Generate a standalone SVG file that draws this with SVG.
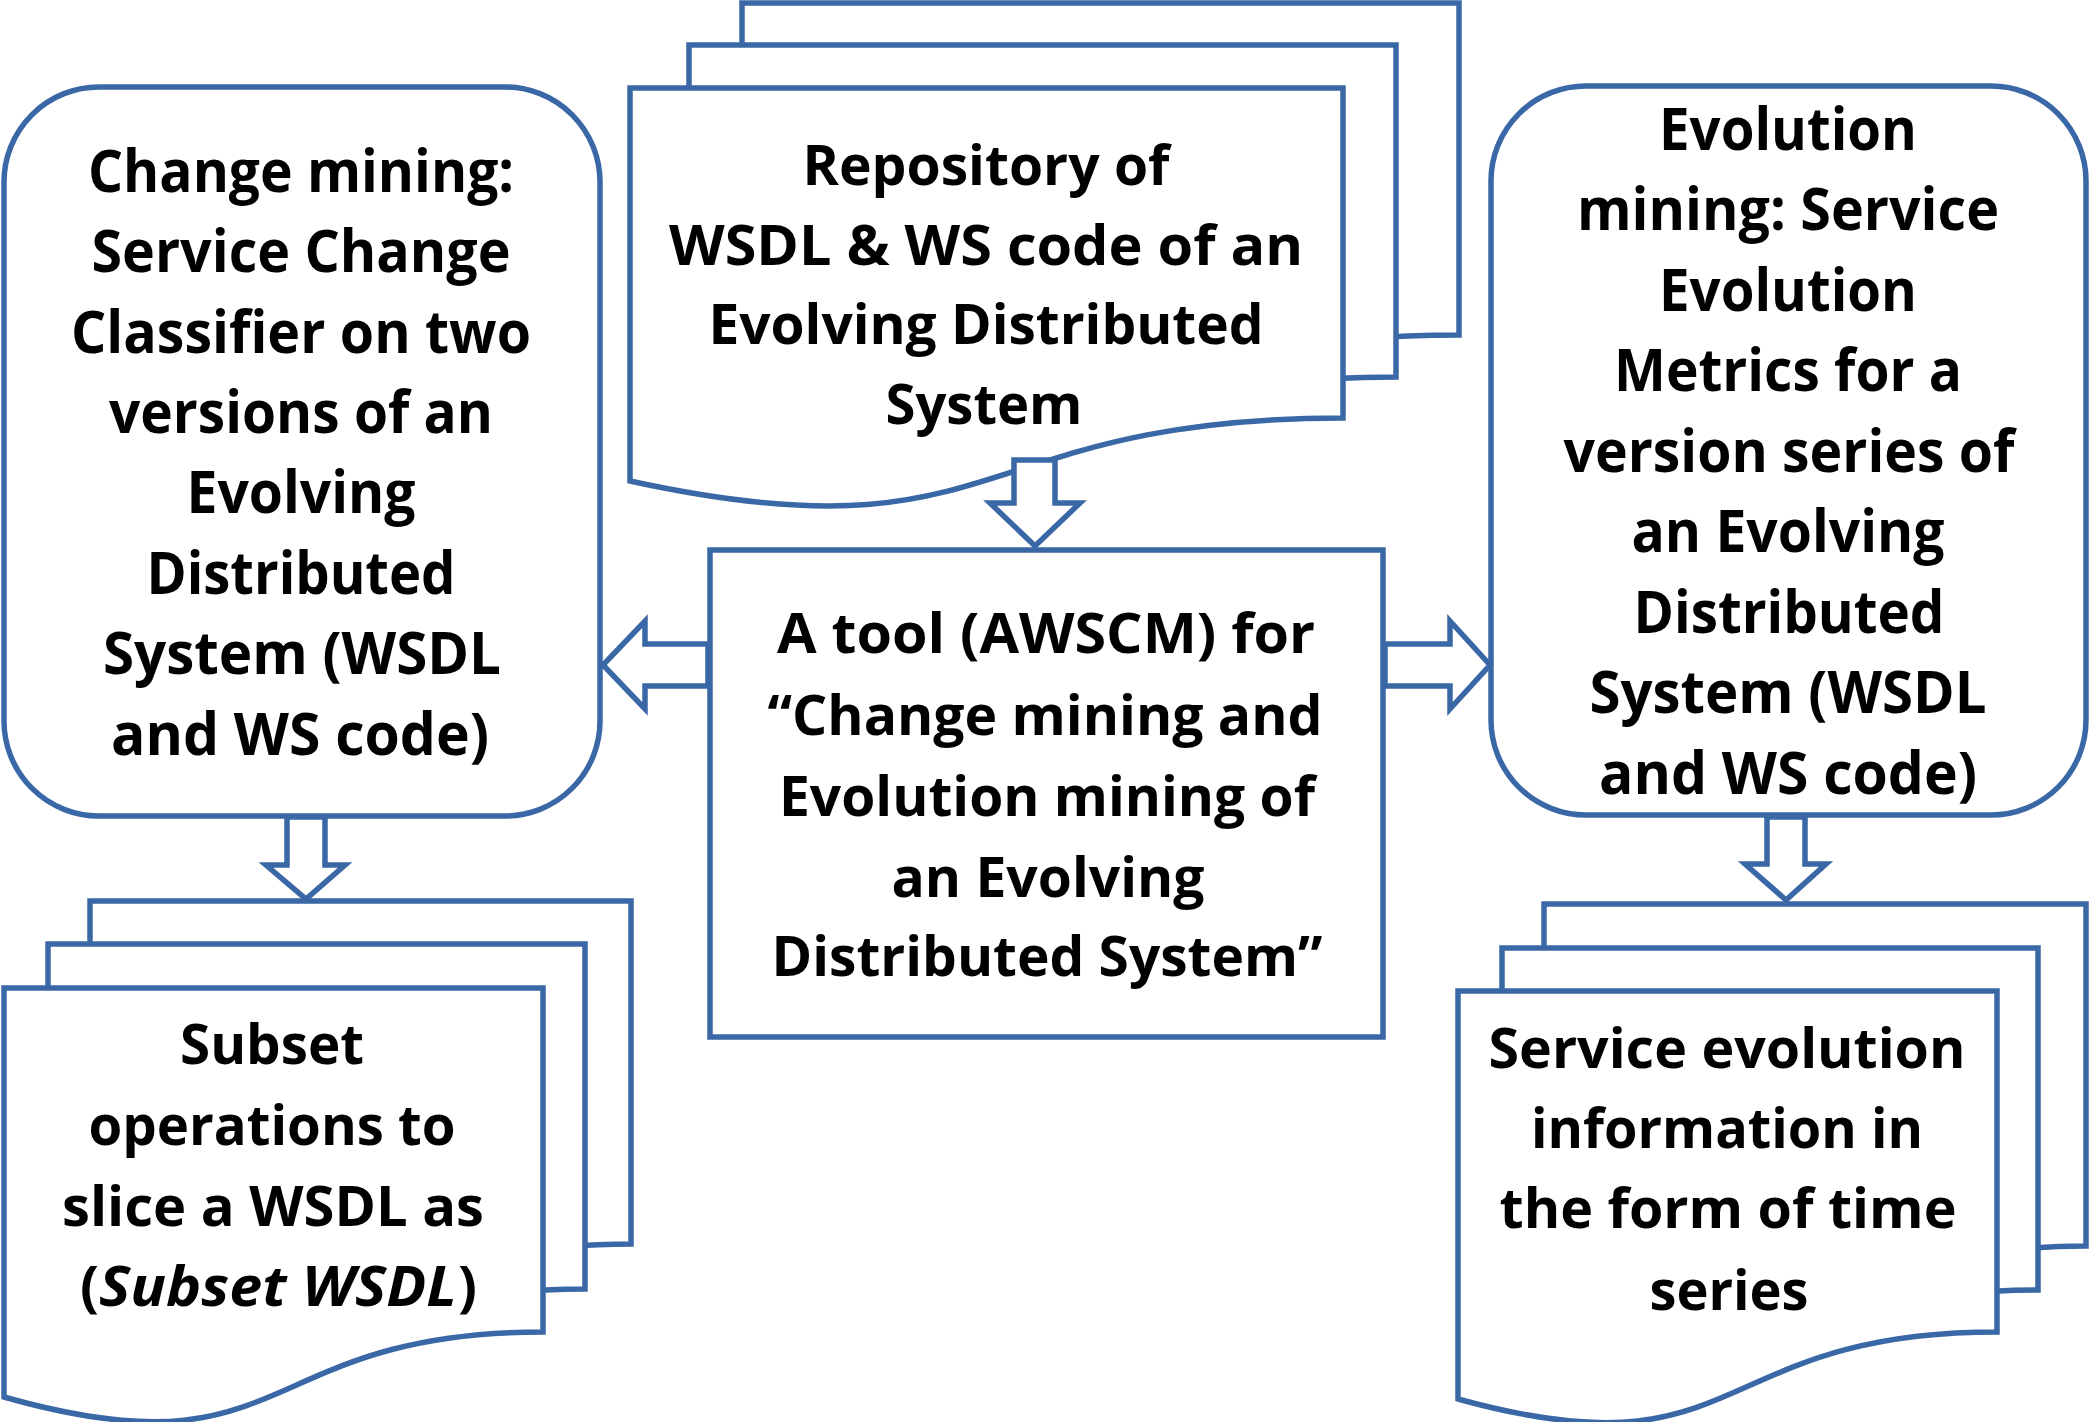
<svg xmlns="http://www.w3.org/2000/svg" width="2090" height="1422" viewBox="0 0 2090 1422">
<style>
.sh{fill:#fff;stroke:#3a68a6;stroke-width:5.5;stroke-linejoin:miter}
.ar{fill:#fff;stroke:#3a68a6;stroke-width:5.5;stroke-linejoin:miter}
.tw{font-family:"Open Sans","Liberation Sans",sans-serif;font-weight:bold;font-size:59px;fill:#000;text-anchor:middle}
.tn{font-family:"Open Sans","Liberation Sans",sans-serif;font-weight:bold;font-size:56px;fill:#000;text-anchor:middle}
</style>
<rect width="2090" height="1422" fill="#fff"/>

<g id="repository">
<path class="sh" d="M742,3 H1459 V335 C1080,335 1120,480 742,398 Z"/>
<path class="sh" d="M689,45 H1396 V377 C1022,377 1062,522 689,440 Z"/>
<path class="sh" d="M630,88 H1343 V418 C966,418 1006,563 630,481 Z"/>
<text class="tn" x="986" y="185" textLength="367" lengthAdjust="spacingAndGlyphs">Repository of</text>
<text class="tn" x="986" y="265" textLength="634" lengthAdjust="spacingAndGlyphs">WSDL &amp; WS code of an</text>
<text class="tn" x="986" y="344" textLength="555" lengthAdjust="spacingAndGlyphs">Evolving Distributed</text>
<text class="tn" x="984" y="424" textLength="197" lengthAdjust="spacingAndGlyphs">System</text>
</g>

<g id="change-mining">
<rect class="sh" x="4" y="87" width="596" height="729" rx="95" ry="95"/>
<text class="tw" x="301" y="192" textLength="426" lengthAdjust="spacingAndGlyphs">Change mining:</text>
<text class="tw" x="301" y="272" textLength="419" lengthAdjust="spacingAndGlyphs">Service Change</text>
<text class="tw" x="301" y="353" textLength="460" lengthAdjust="spacingAndGlyphs">Classifier on two</text>
<text class="tw" x="301" y="433" textLength="384" lengthAdjust="spacingAndGlyphs">versions of an</text>
<text class="tw" x="301" y="513" textLength="229" lengthAdjust="spacingAndGlyphs">Evolving</text>
<text class="tw" x="301" y="594" textLength="309" lengthAdjust="spacingAndGlyphs">Distributed</text>
<text class="tw" x="302" y="674" textLength="398" lengthAdjust="spacingAndGlyphs">System (WSDL</text>
<text class="tw" x="300" y="755" textLength="378" lengthAdjust="spacingAndGlyphs">and WS code)</text>
</g>

<g id="evolution-mining">
<rect class="sh" x="1491" y="86" width="595" height="729" rx="95" ry="95"/>
<text class="tw" x="1788" y="150" textLength="258" lengthAdjust="spacingAndGlyphs">Evolution</text>
<text class="tw" x="1788" y="230" textLength="422" lengthAdjust="spacingAndGlyphs">mining: Service</text>
<text class="tw" x="1788" y="311" textLength="258" lengthAdjust="spacingAndGlyphs">Evolution</text>
<text class="tw" x="1788" y="391" textLength="348" lengthAdjust="spacingAndGlyphs">Metrics for a</text>
<text class="tw" x="1789" y="472" textLength="451" lengthAdjust="spacingAndGlyphs">version series of</text>
<text class="tw" x="1788" y="552" textLength="313" lengthAdjust="spacingAndGlyphs">an Evolving</text>
<text class="tw" x="1789" y="633" textLength="311" lengthAdjust="spacingAndGlyphs">Distributed</text>
<text class="tw" x="1788" y="713" textLength="397" lengthAdjust="spacingAndGlyphs">System (WSDL</text>
<text class="tw" x="1788" y="794" textLength="378" lengthAdjust="spacingAndGlyphs">and WS code)</text>
</g>

<g id="awscm-tool">
<rect class="sh" x="710" y="550" width="673" height="487"/>
<text class="tn" x="1046" y="653" textLength="538" lengthAdjust="spacingAndGlyphs">A tool (AWSCM) for</text>
<text class="tn" x="1045" y="735" textLength="555" lengthAdjust="spacingAndGlyphs">“Change mining and</text>
<text class="tn" x="1047" y="816" textLength="536" lengthAdjust="spacingAndGlyphs">Evolution mining of</text>
<text class="tn" x="1048" y="897" textLength="313" lengthAdjust="spacingAndGlyphs">an Evolving</text>
<text class="tn" x="1047" y="976" textLength="551" lengthAdjust="spacingAndGlyphs">Distributed System”</text>
</g>

<g id="subset-wsdl">
<path class="sh" d="M90,901 H631 V1244 C340,1244 380,1391 90,1309 Z"/>
<path class="sh" d="M48,944 H585 V1289 C296,1289 336,1436 48,1354 Z"/>
<path class="sh" d="M4,988 H543 V1332 C253,1332 293,1479 4,1397 Z"/>
<text class="tn" x="272" y="1064" textLength="184" lengthAdjust="spacingAndGlyphs">Subset</text>
<text class="tn" x="272" y="1145" textLength="367" lengthAdjust="spacingAndGlyphs">operations to</text>
<text class="tn" x="273" y="1226" textLength="422" lengthAdjust="spacingAndGlyphs">slice a WSDL as</text>
<text class="tn" style="text-anchor:start" y="1306"><tspan x="80">(</tspan><tspan x="99" font-style="italic" textLength="358" lengthAdjust="spacingAndGlyphs">Subset WSDL</tspan><tspan x="458">)</tspan></text>
</g>

<g id="evolution-info">
<path class="sh" d="M1544,904 H2086 V1246 C1795,1246 1835,1393 1544,1311 Z"/>
<path class="sh" d="M1502,948 H2038 V1290 C1750,1290 1790,1437 1502,1355 Z"/>
<path class="sh" d="M1458,991 H1997 V1332 C1707,1332 1747,1479 1458,1399 Z"/>
<text class="tn" x="1727" y="1068" textLength="477" lengthAdjust="spacingAndGlyphs">Service evolution</text>
<text class="tn" x="1727" y="1148" textLength="392" lengthAdjust="spacingAndGlyphs">information in</text>
<text class="tn" x="1728" y="1228" textLength="457" lengthAdjust="spacingAndGlyphs">the form of time</text>
<text class="tn" x="1729" y="1310" textLength="159" lengthAdjust="spacingAndGlyphs">series</text>
</g>

<g id="connectors">
<path class="ar" d="M1014,460 H1055 V503 H1080 L1035,546 L990,503 H1014 Z"/>
<path class="ar" d="M708,644 V686 H645 V709 L603,665 L645,621 V644 Z"/>
<path class="ar" d="M1385,644 H1450 V621 L1490,665 L1450,709 V686 H1385 Z"/>
<path class="ar" d="M287,817 H325 V865 H345 L306,899 L266,865 H287 Z"/>
<path class="ar" d="M1767,817 H1805 V864 H1826 L1786,900 L1745,864 H1767 Z"/>
</g>
</svg>
